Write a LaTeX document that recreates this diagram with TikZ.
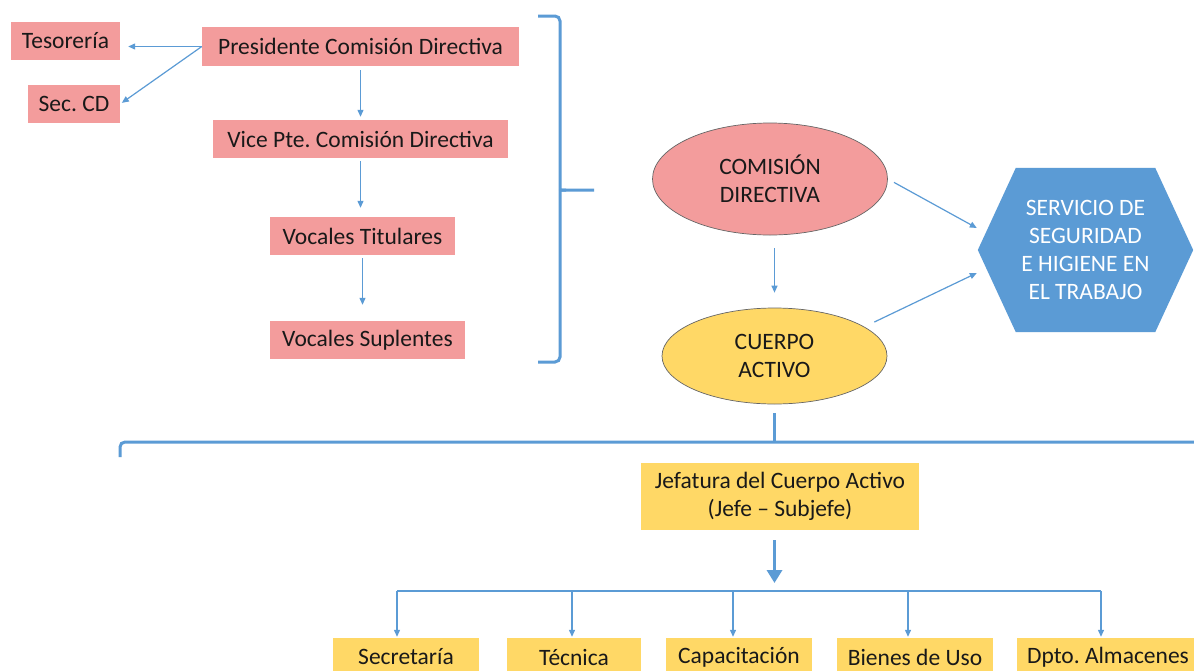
\documentclass[tikz,border=0pt]{standalone}
\usepackage{fontspec}
\setmainfont{Carlito}
\usepackage{tikz}
\usetikzlibrary{arrows.meta,shapes.geometric,calc,backgrounds}
\frenchspacing

\definecolor{rosa}{RGB}{243,156,156}
\definecolor{oro}{RGB}{255,216,102}
\definecolor{azul}{RGB}{91,155,213}

\begin{document}
\begin{tikzpicture}[
		x=1pt, y=-1pt,
		font=\fontsize{23.5}{28}\selectfont,
		rosebox/.style={rectangle, fill=rosa, inner sep=0pt, minimum height=38pt, text=black!90},
		goldbox/.style={rectangle, fill=oro, inner sep=0pt, minimum height=38pt, text=black!90, align=center},
		oval/.style={ellipse, draw=black!60, line width=0.7pt, inner sep=0pt, align=center, text=black!90},
		hexa/.style={rectangle, inner sep=0pt, minimum width=215pt, minimum height=164pt, align=center, text=white},
		link/.style={draw=azul, line width=1.2pt, -{Triangle[length=7pt,width=6pt]}},
		biglink/.style={draw=azul, line width=3.5pt, -{Triangle[length=13pt,width=15pt]}},
		bracket/.style={draw=azul, line width=3pt, rounded corners=5pt},
		busline/.style={draw=azul, line width=1.5pt}
	]
	\useasboundingbox (0,0) rectangle (1194,670);
	\clip (0,0) rectangle (1194,670);

	% comision directiva
	\node[rosebox, minimum width=317pt, minimum height=39pt] (pres) at (360.5,46.5) {Presidente Comisión Directiva};
	\node[rosebox, minimum width=109pt] (tes)  at (65.5,41)   {Tesorería};
	\node[rosebox, minimum width=92pt]  (sec)  at (74,104)    {Sec. CD};
	\node[rosebox, minimum width=295pt] (vice) at (360.5,139) {Vice Pte. Comisión Directiva};
	\node[rosebox, minimum width=185pt] (vtit) at (362.5,236) {Vocales Titulares};
	\node[rosebox, minimum width=195pt] (vsup) at (367.5,340) {Vocales Suplentes};

	\node[oval, fill=rosa, minimum width=235pt, minimum height=112pt] (cd) at (770,179)   {COMISIÓN\\DIRECTIVA};
	\node[oval, fill=oro,  minimum width=225pt, minimum height=96pt]  (ca) at (774.5,356) {CUERPO\\ACTIVO};
	\node[hexa] (ssh) at (1085.5,250) {SERVICIO DE\\SEGURIDAD\\E HIGIENE EN\\EL TRABAJO};
	\begin{scope}[on background layer]
		\fill[white] (0,0) rectangle (1194,670);
		\fill[azul] (ssh.west) -- ($(ssh.north west)+(38,0)$) -- ($(ssh.north east)+(-38,0)$)
			-- (ssh.east) -- ($(ssh.south east)+(-38,0)$) -- ($(ssh.south west)+(38,0)$) -- cycle;
	\end{scope}

	% cuerpo activo
	\node[goldbox, minimum width=278pt, minimum height=67pt] (jef) at (780,496.5) {Jefatura del Cuerpo Activo\\(Jefe – Subjefe)};
	\node[goldbox, minimum width=146pt] (secr) at (406,657)  {Secretaría};
	\node[goldbox, minimum width=134pt] (tec)  at (574,657)  {Técnica};
	\node[goldbox, minimum width=146pt] (cap)  at (739,657)  {Capacitación};
	\node[goldbox, minimum width=156pt] (bien) at (915,657)  {Bienes de Uso};
	\node[goldbox, minimum width=182pt] (dpto) at (1108,657) {Dpto. Almacenes};

	\draw[link, shorten >=8pt] (pres.west) -- (tes.east |- pres.west);
	\draw[link, shorten >=2pt] (pres.west) -- (sec.east);
	\draw[link, shorten <=4pt, shorten >=3pt] (pres) -- (vice);
	\draw[link, shorten <=3pt, shorten >=9pt] (vice.south) -- (vice.south |- vtit.north);
	\draw[link, shorten <=3pt, shorten >=16pt] (vtit.south) -- (vtit.south |- vsup.north);

	\draw[bracket] (538,16) -- (560,16) -- (560,184) .. controls (560,190) .. (566,190) -- (594,190);
	\draw[bracket] (566,190) .. controls (560,190) .. (560,196) -- (560,362) -- (538,362);

	\draw[link, shorten <=13pt, shorten >=15pt] (ca.north |- cd.south) -- (ca.north);
	\draw[link, shorten <=7pt] (cd.east) -- ($(ssh.west)+(-1,-22)$);
	\draw[link, shorten <=11pt] (ca.18) -- ($(ssh.west)+(-1,23)$);

	\draw[bracket] (120,457) -- (120,442) -- (1200,442);
	\draw[bracket] (774,413) -- (774,442);

	\foreach \n/\x in {secr/397,tec/572,cap/733,bien/908,dpto/1101}
		\coordinate (d-\n) at (\x,591);
	\draw[biglink, shorten <=10pt, shorten >=8pt] (ca.south |- jef.south) -- (ca.south |- d-secr);
	\draw[busline] (d-secr) -- (d-dpto);
	\foreach \n in {secr,tec,cap,bien,dpto}
		\draw[link, shorten >=1pt] (d-\n) -- (d-\n |- \n.north);
\end{tikzpicture}
\end{document}
